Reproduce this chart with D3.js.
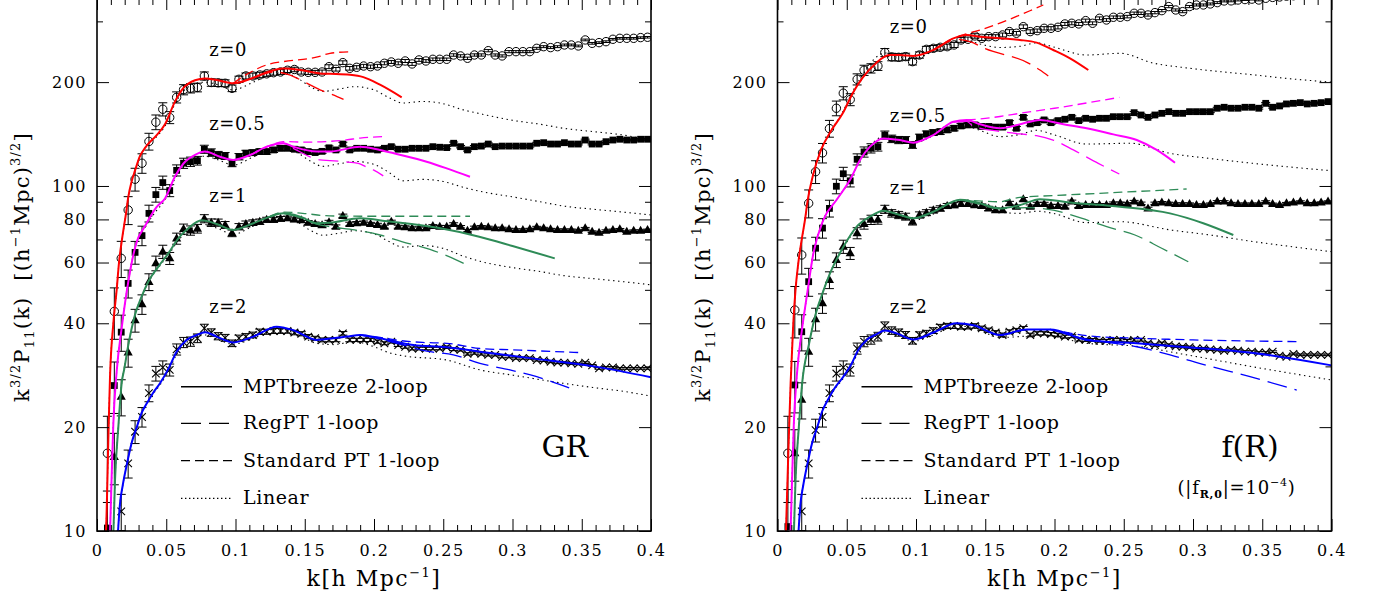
<!DOCTYPE html>
<html><head><meta charset="utf-8">
<script src="https://cdn.jsdelivr.net/npm/d3@7"></script>
<style>
body{margin:0;background:#fff}
svg{display:block}
text{font-family:"DejaVu Serif",serif;fill:#000}
</style>
</head><body><svg id="c" width="1380" height="605"></svg>
<script>
// ---------------- DATA ----------------
const kGrid = [0.0075,0.0125,0.0175,0.0225,0.0275,0.0325,0.0375,0.0425,0.0475,0.0525,
0.0575,0.0625,0.0675,0.0725,0.0775,0.0825,0.0875,0.0925,0.0975,0.1025,
0.1075,0.1125,0.1175,0.1225,0.1275,0.1325,0.1375,0.1425,0.1475,0.1525,
0.1575,0.1625,0.1675,0.1725,0.1775,0.1825,0.1875,0.1925,0.1975,0.2025,
0.2075,0.2125,0.2175,0.2225,0.2275,0.2325,0.2375,0.2425,0.2475,0.2525,
0.2575,0.2625,0.2675,0.2725,0.2775,0.2825,0.2875,0.2925,0.2975,0.3025,
0.3075,0.3125,0.3175,0.3225,0.3275,0.3325,0.3375,0.3425,0.3475,0.3525,
0.3575,0.3625,0.3675,0.3725,0.3775,0.3825,0.3875,0.3925,0.3975];

const relErr = [0.28,0.17,0.12,0.093,0.076,0.065,0.056,0.049,0.044,0.04,
0.037,0.034,0.031,0.029,0.027,0.025,0.024,0.023,0.022,0.021,
0.02,0.019,0.018,0.017,0.017,0.016,0.015,0.015,0.014,0.014,
0.013,0.013,0.013,0.012,0.012,0.012,0.011,0.011,0.011,0.011,
0.01,0.01,0.01,0.01,0.0095,0.0093,0.009,0.0088,0.0086,0.0084,
0.0082,0.008,0.0078,0.0077,0.0075,0.0074,0.0072,0.0071,0.007,0.0068,
0.0067,0.0066,0.0065,0.0064,0.0063,0.0062,0.0061,0.006,0.0059,0.0058,
0.0057,0.0057,0.0056,0.0055,0.0054,0.0054,0.0053,0.0052,0.0052];

// N-body points, GR
const grZ0Pts = [16.8,43.3,61.7,85.2,104.6,116.4,134.6,153.1,166.9,157.9,180.7,190.2,192,193,208.4,199.5,199,198.5,191.9,203.8,208.4,208.4,209.8,211.4,213,214,216.5,217.6,214,213.5,213.5,214,221.7,
217.9,227.8,219.3,220.8,222.7,221.7,222.7,226.8,228.8,226.8,230.3,225.8,231.9,230.3,232.9,232.9,232.9,239.7,238.2,234.5,239.7,239.7,246.7,239.7,238.2,245.1,245.1,245.1,245.1,250.6,253.4,251.8,253.4,256.3,256.3,254.6,265,259.1,260.3,262,266.2,267.9,267.9,267.9,269.2,269.8];
const grZ05Pts = [10.2,26.4,37.7,52.2,64.2,71.8,83.3,94.4,102.3,97,111,116.4,117.6,118.4,127.8,125,123,122.2,116.3,121.6,124.4,124.9,125.8,125.8,127.2,128.6,128.6,127.8,127.2,125.8,125,126,129,
127.2,132.3,127.2,128.6,128.6,127.8,127.2,128.6,130,127.8,127.8,128.6,128.6,128.6,130,129.5,129.2,133,130,127.2,130,130.5,132.3,130,130.5,130.5,130.5,130.5,130.5,133,133.5,132.3,132.3,133.5,132.3,132.3,135.9,132.3,132.3,134.4,135.9,136.6,135.9,135.9,136.6,136.6];
const grZ1Pts = [6.4,16.4,24.5,32.9,40.8,45.4,52.7,59.7,64.5,61.7,70.4,75,74.3,75.2,80.4,78.3,78.3,77.1,72.9,76.2,77.6,78.3,78.8,79.8,79.8,80.3,80.6,80,79.5,78.3,77.6,77,78.5,
76.2,81.9,77.6,78,78.3,77.6,77.1,76.2,78.8,76.2,75.9,75.4,75.4,75.4,76.6,76.2,76.2,77.6,76.2,74.2,75.9,76.2,75.9,75.4,75.4,74.9,74.6,74.6,74.9,75.9,75.4,74.9,74.6,74.6,74.6,74.2,75.4,73.7,73.2,74.2,74.6,74.9,73.7,74.2,74.2,74.6];
const grZ2Pts = [2.9,7.6,11.4,15.7,19.4,21.4,25.1,28.6,29.8,29.3,33.6,35.2,35.4,36.2,38.7,37.6,36.7,36.3,35,36.2,36.6,37,37.8,37.8,38,38,38,37.6,37.3,36.6,36.2,35.8,35.8,
35.8,37.4,35.8,35.8,35.8,35.8,35.4,35,35.4,34.6,34.2,33.8,33.8,33.8,33.8,33.8,34.1,33.6,33.5,32.6,32.8,32.6,32.4,32.4,32,32,31.7,31.7,31.7,31.3,31.2,30.95,30.75,30.75,30.6,30.5,30.75,30.2,29.6,29.8,29.8,29.6,29.6,29.6,29.6,29.6];

// N-body points, f(R)
const frZ0Pts = [16.8,43.7,63.1,89.1,110,124.7,146.7,168,185.8,178,203.8,216.5,219.3,222.7,243.7,236.5,236,237.1,229.3,239.7,248.9,250.6,252.3,253.4,256.3,265,266.2,272.2,267.9,270.9,270.9,274,280.2,277.1,289.6,
280.2,282,286.4,286.4,288.4,294.9,296.2,294.9,301.5,296.2,306.2,302.8,308.3,308.3,309.7,316.6,316.6,313.1,318,322.3,331.1,323.7,320.1,331.1,334.7,334.7,337,340,343.8,344,346,347,348,346,350,352,353,355,356,357,358,360,361,362];
const frZ05Pts = [10.3,26.5,37.8,52.8,66,75.5,86.1,99.8,108.5,103.5,119.5,125.5,128.6,130,140.5,137,135.9,135.9,131.5,138.4,141.5,142.8,143.7,145.4,147,149.3,150.3,150.3,148.8,148.8,148.1,148.1,152.6,147,
158.1,151.3,152.6,155.4,152.6,154.7,156.1,158.1,154.7,157.1,156.1,157.1,157.1,158.8,158.8,158.8,163.1,160.6,158.1,160.6,162.4,164.2,162.4,162.4,164.2,164.2,164.2,164.2,168,169.1,168,168,169.1,169.1,168,173.6,169.1,170.6,172.9,173.6,174.4,172.9,173.6,174.4,175.6];
const frZ1Pts = [6.5,16.8,24,33.1,41.1,45.7,53.4,61,66.7,63.8,73,77.6,79.8,79.8,85.6,83.3,82.4,81.5,78.8,82.4,83.7,85.1,86.1,87.5,88,88.7,88.7,88,87.5,86.1,85.1,85.1,89.1,87,
91.5,87.1,88.7,88.7,87.5,87.5,87.1,90.1,87.5,88.1,88.1,88.1,88.1,89.1,89.1,88.7,90.1,89.1,86.1,89.1,89.5,89.1,88.7,88.7,88.7,88.1,88.1,88.7,90.1,90.1,89.1,88.7,88.7,88.7,88.7,90.1,88.7,88.1,89.1,89.5,90.1,89.1,89.1,89.5,90.1];
const frZ2Pts = [3,7.7,11.4,15.7,19.6,21.4,25.1,28.6,29.8,29.3,33.8,35.4,35.9,36.6,39.3,38.1,37.6,37,35.6,37,37.4,38.1,39,39.3,39.3,39.1,39.1,39.3,38.7,38.2,37.6,37,37.8,38.2,
38.7,37,37.4,37.4,37.2,37,36.6,36.7,35.9,35.8,35.8,35.6,35.6,35.8,35.8,35.6,35.8,35.8,35,34.6,35,34.6,34.3,34.2,34.1,33.8,33.8,33.6,33.5,33.3,33.5,33.3,33.1,33.1,32.9,32.9,33.1,32.2,32,32.6,32.4,32.4,32.4,32.4,32.4];

// Theory curves [k, k^1.5 P] - GR
const grZ0Mpt = [[0.0062,9.5],[0.0065,10],[0.0084,20],[0.0094,28],[0.0118,40],[0.0142,50],[0.0159,60],[0.0185,72],[0.0207,82],[0.0226,93],[0.025,103],[0.0275,111],[0.031,122],[0.0347,129],[0.0431,140.5],[0.0491,151],[0.0563,175.6],[0.0623,192],[0.0708,202.5],[0.078,205],[0.0864,202.8],[0.0984,198.5],[0.1129,206],[0.125,215],[0.1345,219],[0.1466,217],[0.161,212],[0.1682,211.4],[0.1827,210],[0.1923,206.8],[0.2043,196.6],[0.22,180.7]];
const grZ0Reg = [[0.1129,206],[0.12,211],[0.128,214],[0.139,210],[0.15,200],[0.161,190],[0.17,184],[0.178,178.3]];
const grZ0Spt = [[0.0984,198.5],[0.105,207],[0.113,216],[0.125,226],[0.1345,229.3],[0.16,237],[0.1682,242.4],[0.1827,245]];
const grZ0Lin = [[0.0062,9.5],[0.0065,10],[0.0084,20],[0.0094,28],[0.0118,40],[0.0142,50],[0.0159,60],[0.0185,72],[0.0207,82],[0.0226,93],[0.025,103],[0.0275,111],[0.031,122],[0.0347,129],[0.0431,139],[0.0491,149],[0.0563,173],[0.0623,188],[0.0708,198],[0.078,200],[0.0864,197],[0.0984,190],[0.1129,200],[0.125,210],[0.1345,213],[0.145,205],[0.155,193],[0.163,188],[0.175,191],[0.186,194],[0.2,190],[0.21,181],[0.221,174],[0.235,175.8],[0.2477,174],[0.265,166],[0.2765,162],[0.3,155],[0.32,151],[0.3366,147],[0.36,143.5],[0.38,140.5],[0.4,135]];

const grZ05Mpt = [[0.0093,9.5],[0.0105,14],[0.0118,20.5],[0.0142,29],[0.0178,38.7],[0.0226,52.8],[0.0274,66],[0.0298,70.8],[0.0334,75],[0.0431,87],[0.0491,92],[0.0563,106.5],[0.0623,116],[0.0708,123],[0.078,125.8],[0.0888,121.6],[0.0984,119],[0.1105,123],[0.1225,130],[0.1345,133],[0.1417,130],[0.1586,125.8],[0.1682,125.8],[0.19,130],[0.2043,127.2],[0.2164,123.8],[0.238,117.6],[0.2525,112.5],[0.2693,106.4]];
const grZ05Reg = [[0.1225,130],[0.1345,133],[0.1417,128.6],[0.161,119],[0.1682,118.5],[0.178,117.6],[0.1887,116.3],[0.1947,113.4],[0.1995,111.3],[0.2067,107]];
const grZ05Spt = [[0.1105,123],[0.125,131],[0.1345,134.5],[0.15,134],[0.165,134.5],[0.18,136],[0.19,137.7],[0.2065,139]];
const grZ05Lin = [[0.0093,9.5],[0.0105,14],[0.0118,20.5],[0.0142,29],[0.0178,38.7],[0.0226,52.8],[0.0274,66],[0.0298,70.5],[0.0334,74.5],[0.0431,85],[0.0491,91],[0.0563,105],[0.0623,114],[0.0708,120.5],[0.078,122],[0.0864,119.5],[0.0984,115],[0.1129,121.5],[0.125,127.5],[0.1345,129.5],[0.145,124.5],[0.155,117.5],[0.163,114],[0.175,116],[0.186,117.8],[0.2,115.5],[0.21,110],[0.221,103.5],[0.235,104.5],[0.2477,103.5],[0.265,99],[0.2765,96.5],[0.3,93],[0.32,90],[0.3366,87.5],[0.36,85.5],[0.38,84],[0.4,82.4]];

const grZ1Mpt = [[0.0117,9.5],[0.013,14],[0.0154,20],[0.0178,26.8],[0.0197,29.5],[0.0226,34.6],[0.0274,42.3],[0.0322,47.8],[0.037,52.8],[0.0443,58.4],[0.0515,63.8],[0.0587,70.5],[0.0659,75.4],[0.0756,79.5],[0.0864,77.6],[0.0984,74.6],[0.1129,78],[0.125,81.5],[0.1345,83.3],[0.1466,81.5],[0.1586,78],[0.168,78.2],[0.19,80.6],[0.21,79],[0.247,75.5],[0.276,71.3],[0.3,67],[0.3305,61.7]];
const grZ1Reg = [[0.1345,83.3],[0.1466,81],[0.1586,77.5],[0.1682,76.2],[0.186,74.6],[0.2043,72.1],[0.22,69],[0.2404,65.5],[0.2597,61],[0.2693,58.4]];
const grZ1Spt = [[0.125,81.8],[0.1345,84],[0.15,83.2],[0.165,82],[0.177,81.8],[0.2,81.7],[0.2693,81.7]];
const grZ1Lin = [[0.0117,9.5],[0.013,14],[0.0154,20],[0.0178,26.8],[0.0197,29.5],[0.0226,34.6],[0.0274,42.3],[0.0322,47.8],[0.037,52.5],[0.0443,58],[0.0515,63],[0.0587,69.5],[0.0659,74],[0.0756,77.5],[0.0864,75.5],[0.0984,72.5],[0.1129,76.5],[0.125,80],[0.1345,81.5],[0.145,78.5],[0.155,74],[0.163,72],[0.175,73],[0.186,74.2],[0.2,72.7],[0.21,69.3],[0.221,66.5],[0.235,67.2],[0.2477,66.3],[0.265,62.5],[0.2765,60.5],[0.3,58],[0.32,56.5],[0.3366,55],[0.36,53.8],[0.38,52.8],[0.4,51.7]];

const grZ2Mpt = [[0.0152,10],[0.0166,12],[0.0185,13.5],[0.0214,15.5],[0.025,18],[0.0287,20],[0.0322,22],[0.0359,23.4],[0.0407,25.2],[0.0455,26.8],[0.0515,29.5],[0.0575,33.1],[0.0647,35.8],[0.072,37],[0.078,37.7],[0.0864,36.6],[0.0984,35.2],[0.1129,36.6],[0.1297,39.1],[0.1417,38.2],[0.1586,35.8],[0.1706,36.2],[0.1803,36.6],[0.19,37],[0.2043,36.2],[0.2284,34.6],[0.2525,34.1],[0.2765,33.1],[0.3126,31.7],[0.3608,29.9],[0.4,27.9]];
const grZ2Reg = [[0.19,37],[0.2043,36],[0.22,34.7],[0.2404,33.1],[0.2573,32.4],[0.2765,30.6],[0.2982,29.3],[0.3175,28],[0.3451,25.6]];
const grZ2Spt = [[0.19,37],[0.2043,36.4],[0.22,35.6],[0.235,35.2],[0.2525,35],[0.2765,33.8],[0.3,33.5],[0.3487,32.9]];
const grZ2Lin = [[0.0152,10],[0.0166,12],[0.0185,13.5],[0.0214,15.5],[0.025,18],[0.0287,20],[0.0322,22],[0.0359,23.4],[0.0407,25],[0.0455,26.5],[0.0515,29],[0.0575,32.5],[0.0647,35.2],[0.072,36.5],[0.078,37],[0.0864,36],[0.0984,34.8],[0.1129,36.2],[0.1297,38.6],[0.1417,37.7],[0.1586,35],[0.1706,34.7],[0.186,35.4],[0.2,34.2],[0.2116,32.8],[0.221,32.2],[0.2525,31.3],[0.2765,29.3],[0.3,28.3],[0.3366,26.8],[0.36,26],[0.38,25.4],[0.4,24.6]];

// Theory curves - f(R)
const frZ0Mpt = [[0.0059,9.5],[0.0061,10],[0.0078,16.8],[0.0095,27],[0.0114,40],[0.013,50],[0.015,59.7],[0.0175,70],[0.0199,80],[0.0218,91],[0.0254,106.5],[0.0314,127.2],[0.0386,144.3],[0.0471,162.4],[0.0543,185.8],[0.0615,206],[0.0711,227],[0.0807,239.7],[0.0879,239.7],[0.098,238.2],[0.1125,247.8],[0.127,267.9],[0.1366,274],[0.1462,270.9],[0.1606,267.9],[0.175,265],[0.1871,260.3],[0.1991,247.8],[0.2112,234.5],[0.2244,216.9]];
const frZ0Reg = [[0.1125,247.8],[0.12,258],[0.13,266],[0.139,262],[0.15,250],[0.1811,227.1],[0.1895,216.9],[0.1955,208.4]];
const frZ0Spt = [[0.1125,247.8],[0.127,268],[0.1366,276],[0.146,283],[0.1823,322],[0.1919,334.7]];
const frZ0Lin = [[0.0059,9.5],[0.0061,10],[0.0078,16.8],[0.0095,27],[0.0114,40],[0.013,50],[0.015,59.7],[0.0175,70],[0.0199,80],[0.0218,91],[0.0254,106.5],[0.0314,127.2],[0.0386,144.3],[0.0471,164],[0.0543,188],[0.0615,210],[0.0711,236],[0.0776,243],[0.0884,240],[0.098,233],[0.1125,246],[0.127,262],[0.1366,264],[0.146,258],[0.1606,252],[0.175,254],[0.187,260],[0.199,253],[0.2232,239.7],[0.2473,242.4],[0.2713,227.1],[0.295,220],[0.3195,214.5],[0.3435,210],[0.3677,205],[0.4,200]];

const frZ05Mpt = [[0.0093,9.5],[0.0105,14],[0.0118,20.5],[0.0142,29],[0.0178,38.7],[0.0211,47.8],[0.0259,63.8],[0.0331,79.8],[0.0427,91.2],[0.0523,104],[0.0596,119],[0.0668,130],[0.0764,137.4],[0.0884,135.9],[0.098,133.5],[0.1125,140.5],[0.127,153.6],[0.1366,155.4],[0.1462,151],[0.1606,147],[0.1823,153.6],[0.1895,155.4],[0.2064,151],[0.2232,147],[0.2425,141.1],[0.2594,135.9],[0.2738,127.2],[0.287,116.8]];
const frZ05Reg = [[0.127,153],[0.1366,154],[0.1414,149],[0.16,144],[0.175,141.5],[0.187,140],[0.199,135.9],[0.2136,127.2],[0.2316,116.3],[0.2468,108.3]];
const frZ05Spt = [[0.1366,155.4],[0.15,157],[0.1606,159],[0.175,162.4],[0.2,168],[0.225,174.5],[0.2468,180.7]];
const frZ05Lin = [[0.0093,9.5],[0.0105,14],[0.0118,20.5],[0.0142,29],[0.0178,38.7],[0.0211,47.8],[0.0259,63.8],[0.0331,79.8],[0.0427,91.2],[0.0523,104],[0.0596,119],[0.0668,130.5],[0.0764,139],[0.0884,137],[0.098,133],[0.1125,140],[0.127,148],[0.1366,149],[0.146,145],[0.1606,139],[0.175,141],[0.187,145],[0.199,141],[0.2232,132.3],[0.2545,133],[0.2834,124.4],[0.3135,120],[0.3435,116.3],[0.37,113.5],[0.4,110.7]];

const frZ1Mpt = [[0.0117,9.5],[0.013,14],[0.0154,20],[0.0178,26.8],[0.0226,34.6],[0.0274,42.3],[0.0322,48.5],[0.0379,55.8],[0.0475,66.5],[0.0572,76.2],[0.0668,81.5],[0.0764,84.8],[0.0884,82.4],[0.098,80.6],[0.1125,84.2],[0.1318,91.2],[0.1414,90.1],[0.1606,86.1],[0.175,88],[0.1895,91.6],[0.2112,89.5],[0.2473,87.1],[0.2834,83.3],[0.3074,78],[0.3291,72.1]];
const frZ1Reg = [[0.1318,91.2],[0.1414,89.5],[0.16,86],[0.18,86.5],[0.1991,85.1],[0.22,80.5],[0.2377,76.2],[0.2581,72.1],[0.2774,66],[0.2966,60.3]];
const frZ1Spt = [[0.1318,91.2],[0.145,90.5],[0.16,90],[0.175,92.7],[0.2,93.8],[0.25,96],[0.2954,98]];
const frZ1Lin = [[0.0117,9.5],[0.013,14],[0.0154,20],[0.0178,26.8],[0.0226,34.6],[0.0274,42.3],[0.0322,48.5],[0.0379,55.8],[0.0475,66],[0.0572,75.5],[0.0668,80.5],[0.0764,83.8],[0.0884,81.8],[0.098,79.5],[0.1125,83],[0.1318,89],[0.1414,88.5],[0.1606,84],[0.175,83.3],[0.187,84.5],[0.199,83.3],[0.2232,78.3],[0.2473,78.8],[0.2834,74.6],[0.3135,72],[0.3435,69],[0.37,66.8],[0.4,64.5]];

const frZ2Mpt = [[0.0152,10],[0.0166,12],[0.0185,13.5],[0.0214,15.5],[0.025,18],[0.0287,20],[0.0322,22.2],[0.0359,23.8],[0.0403,25.6],[0.0475,28],[0.0536,30.6],[0.0584,33.5],[0.0644,35.8],[0.0716,37.2],[0.0776,38.1],[0.086,37.4],[0.098,35.9],[0.1125,37.6],[0.1294,40],[0.1414,39.5],[0.1606,37],[0.1799,38.4],[0.1968,38.4],[0.2232,35.8],[0.2594,35],[0.2954,34.1],[0.3435,32.8],[0.4,30.2]];
const frZ2Reg = [[0.1968,38.4],[0.22,36.2],[0.2594,34.2],[0.2834,32.4],[0.3099,30.2],[0.3412,28],[0.3749,25.6]];
const frZ2Spt = [[0.1968,38.4],[0.2305,36.6],[0.26,36.2],[0.3,35.8],[0.3749,35.4]];
const frZ2Lin = [[0.0152,10],[0.0166,12],[0.0185,13.5],[0.0214,15.5],[0.025,18],[0.0287,20],[0.0322,22.2],[0.0359,23.8],[0.0403,25.4],[0.0475,27.7],[0.0536,30.2],[0.0584,33],[0.0644,35.3],[0.0716,36.8],[0.0776,37.7],[0.086,37],[0.098,35.5],[0.1125,37],[0.1294,39.3],[0.1414,38.8],[0.1606,36.4],[0.175,36.6],[0.19,37],[0.2232,35],[0.2594,34.3],[0.2954,32.4],[0.3435,29.9],[0.4,27.4]];

// labels and ticks
const zLabels = ["z=0","z=0.5","z=1","z=2"];
const legendLabels = ["MPTbreeze 2-loop","RegPT 1-loop","Standard PT 1-loop","Linear"];
const xMajor = [0,0.05,0.1,0.15,0.2,0.25,0.3,0.35,0.4];
const xMinor = [0.01,0.02,0.03,0.04,0.06,0.07,0.08,0.09,0.11,0.12,0.13,0.14,0.16,0.17,0.18,0.19,0.21,0.22,0.23,0.24,0.26,0.27,0.28,0.29,0.31,0.32,0.33,0.34,0.36,0.37,0.38,0.39];
const yMajor = [10,20,40,60,80,100,200];
const yMinor = [30,50,70,90,300];

// ---------------- DRAWING ----------------
const colors = ["#ff0000","#ff00ff","#2e8b57","#0000ff"];
const markers = ["circle","square","triangle","cross"];
const svg = d3.select('#c');
const PW = 554, TOP = -1, BOT = 531;

function drawPanel(id, x0, series, labelBase, tag) {
  const x = d3.scaleLinear().domain([0, 0.4]).range([x0, x0 + PW]);
  const y = d3.scaleLog().domain([10, 348.3]).range([BOT, TOP]);
  const g = svg.append('g');
  const clipId = 'clip' + id;
  svg.append('clipPath').attr('id', clipId).append('rect')
    .attr('x', x0).attr('y', TOP).attr('width', PW).attr('height', BOT - TOP);
  const plot = g.append('g').attr('clip-path', `url(#${clipId})`);
  const line = d3.line().x(d => x(d[0])).y(d => y(d[1])).curve(d3.curveMonotoneX);

  // linear (dotted)
  series.forEach(s => {
    plot.append('path').attr('d', line(s.lin)).attr('fill', 'none')
      .attr('stroke', '#000').attr('stroke-width', 1.1).attr('stroke-dasharray', '1.4,3.6');
  });

  // points + error bars
  series.forEach((s, si) => {
    const pts = s.pts.map((v, i) => ({k: kGrid[i], v, e: relErr[i]})).filter(d => d.k !== undefined && d.v > 8);
    const pg = plot.append('g');
    pg.selectAll('line.eb').data(pts).join('line').attr('class', 'eb')
      .attr('x1', d => x(d.k)).attr('x2', d => x(d.k))
      .attr('y1', d => y(d.v * (1 - d.e))).attr('y2', d => y(d.v * (1 + d.e)))
      .attr('stroke', '#000').attr('stroke-width', 1);
    ['lo', 'hi'].forEach(side => {
      pg.selectAll('line.cap' + side).data(pts).join('line').attr('class', 'cap' + side)
        .attr('x1', d => x(d.k) - 4.5).attr('x2', d => x(d.k) + 4.5)
        .attr('y1', d => y(d.v * (side === 'lo' ? 1 - d.e : 1 + d.e)))
        .attr('y2', d => y(d.v * (side === 'lo' ? 1 - d.e : 1 + d.e)))
        .attr('stroke', '#000').attr('stroke-width', 1);
    });
    const m = markers[si];
    const mk = pg.selectAll('g.mk').data(pts).join('g').attr('class', 'mk')
      .attr('transform', d => `translate(${x(d.k)},${y(d.v)})`);
    if (m === 'circle') mk.append('circle').attr('r', 4.2).attr('fill', 'none').attr('stroke', '#000').attr('stroke-width', 1);
    if (m === 'square') mk.append('rect').attr('x', -3.4).attr('y', -3.4).attr('width', 6.8).attr('height', 6.8).attr('fill', '#000');
    if (m === 'triangle') mk.append('path').attr('d', 'M0,-5L4.6,3L-4.6,3Z').attr('fill', '#000');
    if (m === 'cross') mk.append('path').attr('d', 'M-3.8,-3.8L3.8,3.8M-3.8,3.8L3.8,-3.8').attr('stroke', '#000').attr('stroke-width', 1.1);
  });

  // theory curves
  series.forEach((s, si) => {
    plot.append('path').attr('d', line(s.reg)).attr('fill', 'none').attr('stroke', colors[si])
      .attr('stroke-width', 1.3).attr('stroke-dasharray', '20,8');
    plot.append('path').attr('d', line(s.spt)).attr('fill', 'none').attr('stroke', colors[si])
      .attr('stroke-width', 1.3).attr('stroke-dasharray', '9,5');
    plot.append('path').attr('d', line(s.mpt)).attr('fill', 'none').attr('stroke', colors[si])
      .attr('stroke-width', 2);
  });

  // z labels
  series.forEach((s, si) => {
    g.append('text').attr('x', x(0.081)).attr('y', labelBase[si])
      .style('font-size', '18px').style('letter-spacing', '0.6px').text(zLabels[si]);
  });

  // axes
  const styleAx = sel => { sel.select('.domain').remove(); sel.selectAll('line').attr('stroke', '#000').attr('stroke-width', 1); };
  const bx = g.append('g').attr('transform', `translate(0,${BOT})`)
    .call(d3.axisBottom(x).tickValues(xMajor).tickSize(-12).tickPadding(14).tickFormat(d => String(d)));
  styleAx(bx);
  bx.selectAll('text').style('font-size', '16px').style('letter-spacing', '1.5px').attr('font-family', null);
  g.append('g').attr('transform', `translate(0,${BOT})`).call(d3.axisBottom(x).tickValues(xMinor).tickSize(-6).tickFormat('')).call(styleAx);
  g.append('g').attr('transform', `translate(0,${TOP})`).call(d3.axisTop(x).tickValues(xMajor).tickSize(-11).tickFormat('')).call(styleAx);
  g.append('g').attr('transform', `translate(0,${TOP})`).call(d3.axisTop(x).tickValues(xMinor).tickSize(-6).tickFormat('')).call(styleAx);
  const ly = g.append('g').attr('transform', `translate(${x0},0)`)
    .call(d3.axisLeft(y).tickValues(yMajor).tickSize(-12).tickPadding(10).tickFormat(d => String(d)));
  styleAx(ly);
  ly.selectAll('text').style('font-size', '16px').style('letter-spacing', '1.5px').attr('font-family', null);
  g.append('g').attr('transform', `translate(${x0},0)`).call(d3.axisLeft(y).tickValues(yMinor).tickSize(-6).tickFormat('')).call(styleAx);
  g.append('g').attr('transform', `translate(${x0 + PW},0)`).call(d3.axisRight(y).tickValues(yMajor).tickSize(-12).tickFormat('')).call(styleAx);
  g.append('g').attr('transform', `translate(${x0 + PW},0)`).call(d3.axisRight(y).tickValues(yMinor).tickSize(-6).tickFormat('')).call(styleAx);

  g.append('rect').attr('x', x0).attr('y', TOP).attr('width', PW).attr('height', BOT - TOP)
    .attr('fill', 'none').attr('stroke', '#000').attr('stroke-width', 1.6);

  // legend
  const dashes = [null, '20,8', '9,5', '1.4,2.6'];
  const rows = [386.7, 423.3, 460.7, 498.3];
  legendLabels.forEach((lab, i) => {
    g.append('line').attr('x1', x0 + 84).attr('x2', x0 + 135).attr('y1', rows[i]).attr('y2', rows[i])
      .attr('stroke', '#000').attr('stroke-width', i === 0 ? 1.5 : 1.2).attr('stroke-dasharray', dashes[i]);
    g.append('text').attr('x', x0 + 146).attr('y', rows[i] + 6)
      .style('font-size', '19px').style('letter-spacing', '0.6px').text(lab);
  });

  // axis titles
  const xt = g.append('text').attr('x', x0 + PW / 2).attr('y', 586).attr('text-anchor', 'middle')
    .style('font-size', '22px').style('letter-spacing', '1.5px');
  xt.append('tspan').text('k[h Mpc');
  xt.append('tspan').attr('dy', -9).style('font-size', '13px').text('−1');
  xt.append('tspan').attr('dy', 9).text(']');

  const yt = g.append('text').attr('transform', `translate(${x0 - 68},267) rotate(-90)`)
    .attr('text-anchor', 'middle').style('font-size', '21px').style('letter-spacing', '1.2px')
    .style('white-space', 'pre');
  yt.append('tspan').text('k');
  yt.append('tspan').attr('dy', -9).style('font-size', '13px').text('3/2');
  yt.append('tspan').attr('dy', 9).text('P');
  yt.append('tspan').attr('dy', 5).style('font-size', '13px').text('11');
  yt.append('tspan').attr('dy', -5).text('(k)  [(h');
  yt.append('tspan').attr('dy', -9).style('font-size', '13px').text('−1');
  yt.append('tspan').attr('dy', 9).text('Mpc)');
  yt.append('tspan').attr('dy', -9).style('font-size', '13px').text('3/2');
  yt.append('tspan').attr('dy', 9).text(']');

  tag(g, x0);
}

drawPanel('gr', 97, [
  {pts: grZ0Pts, mpt: grZ0Mpt, reg: grZ0Reg, spt: grZ0Spt, lin: grZ0Lin},
  {pts: grZ05Pts, mpt: grZ05Mpt, reg: grZ05Reg, spt: grZ05Spt, lin: grZ05Lin},
  {pts: grZ1Pts, mpt: grZ1Mpt, reg: grZ1Reg, spt: grZ1Spt, lin: grZ1Lin},
  {pts: grZ2Pts, mpt: grZ2Mpt, reg: grZ2Reg, spt: grZ2Spt, lin: grZ2Lin}
], [56, 130, 201.7, 312.7], (g, x0) => {
  g.append('text').attr('x', x0 + 491).attr('y', 457).attr('text-anchor', 'end')
    .style('font-size', '30px').text('GR');
});

drawPanel('fr', 777.5, [
  {pts: frZ0Pts, mpt: frZ0Mpt, reg: frZ0Reg, spt: frZ0Spt, lin: frZ0Lin},
  {pts: frZ05Pts, mpt: frZ05Mpt, reg: frZ05Reg, spt: frZ05Spt, lin: frZ05Lin},
  {pts: frZ1Pts, mpt: frZ1Mpt, reg: frZ1Reg, spt: frZ1Spt, lin: frZ1Lin},
  {pts: frZ2Pts, mpt: frZ2Mpt, reg: frZ2Reg, spt: frZ2Spt, lin: frZ2Lin}
], [33.3, 121.7, 194, 313], (g, x0) => {
  g.append('text').attr('x', x0 + 444).attr('y', 457).style('font-size', '30px').text('f(R)');
  const t = g.append('text').attr('x', x0 + 400).attr('y', 494).style('font-size', '18px').style('letter-spacing', '0.8px');
  t.append('tspan').text('(|f');
  t.append('tspan').attr('dy', 4).style('font-size', '11px').style('font-weight', 'bold').text('R,0');
  t.append('tspan').attr('dy', -4).text('|=10');
  t.append('tspan').attr('dy', -8).style('font-size', '11px').text('−4');
  t.append('tspan').attr('dy', 8).text(')');
});
</script>
</body></html>
